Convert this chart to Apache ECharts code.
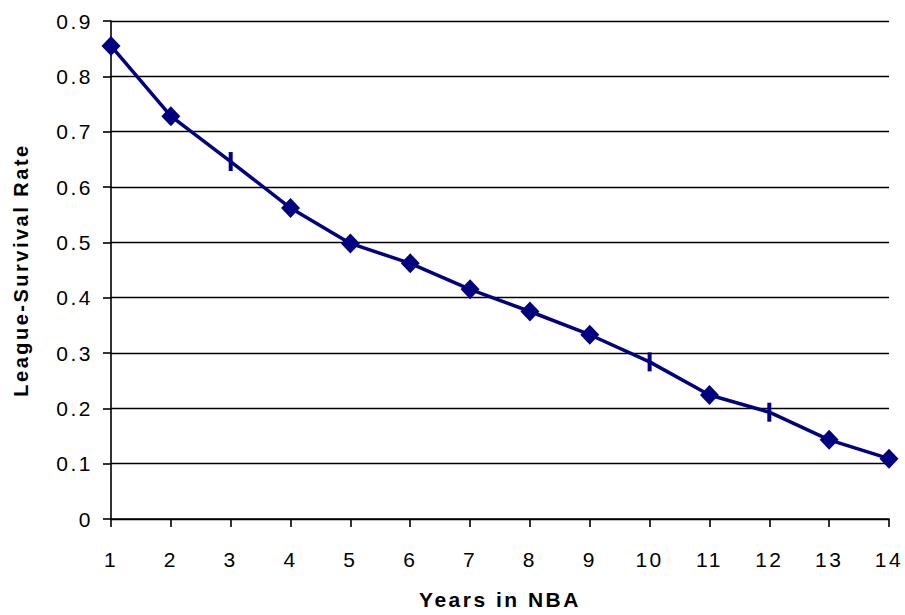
<!DOCTYPE html>
<html>
<head>
<meta charset="utf-8">
<script src="https://cdn.jsdelivr.net/npm/echarts@6/dist/echarts.min.js"></script>
<style>
  html, body { margin: 0; padding: 0; background: #fff; }
  #chart { width: 905px; height: 615px; }
  /* the original text is set a little loose */
  #chart text { letter-spacing: 2.5px; }
</style>
</head>
<body>
<div id="chart"></div>
<script>
  // 数据
  const years = ['1', '2', '3', '4', '5', '6', '7', '8', '9', '10', '11', '12', '13', '14'];
  const survivalRate = [0.855, 0.728, 0.646, 0.562, 0.498, 0.462, 0.415, 0.375, 0.333, 0.284, 0.224, 0.193, 0.143, 0.109];
  // points drawn as a thin dash in the original
  const dashPoints = ['3', '10', '12'];

  const chart = echarts.init(document.getElementById('chart'), null, { renderer: 'svg' });

  const seriesData = survivalRate.map((v, i) => {
    if (dashPoints.includes(years[i])) {
      return { value: v, symbol: 'rect', symbolSize: [4, 19] };
    }
    return v;
  });

  const font = 'Liberation Sans';

  const option = {
    backgroundColor: '#fff',
    animation: false,
    grid: { left: 111, right: 16, top: 21, bottom: 92 },
    xAxis: {
      type: 'category',
      data: years,
      boundaryGap: false,
      name: 'Years in NBA',
      nameLocation: 'middle',
      nameGap: 70,
      nameTextStyle: { fontFamily: font, fontWeight: 'bold', fontSize: 21, color: '#000' },
      axisLine: { lineStyle: { color: '#000', width: 1.6 } },
      axisTick: { alignWithLabel: true, length: 8, lineStyle: { color: '#000', width: 1.6 } },
      axisLabel: { fontFamily: font, fontSize: 21, color: '#000', margin: 30 },
      splitLine: { show: false }
    },
    yAxis: {
      type: 'value',
      min: 0,
      max: 0.9,
      interval: 0.1,
      name: 'League-Survival Rate',
      nameLocation: 'middle',
      nameGap: 80,
      nameTextStyle: { fontFamily: font, fontWeight: 'bold', fontSize: 20, color: '#000' },
      axisLine: { show: true, lineStyle: { color: '#000', width: 1.6 } },
      axisTick: { show: true, length: 8, lineStyle: { color: '#000', width: 1.6 } },
      axisLabel: {
        fontFamily: font, fontSize: 21, color: '#000', margin: 18,
        formatter: (v) => String(Math.round(v * 10) / 10)
      },
      splitLine: { show: true, lineStyle: { color: '#000', width: 1.4 } }
    },
    series: [{
      type: 'line',
      data: seriesData,
      symbol: 'diamond',
      symbolSize: [19, 20],
      showAllSymbol: true,
      lineStyle: { color: '#000080', width: 3.5 },
      itemStyle: { color: '#000080' },
      z: 5
    }]
  };

  chart.setOption(option);
</script>
</body>
</html>
